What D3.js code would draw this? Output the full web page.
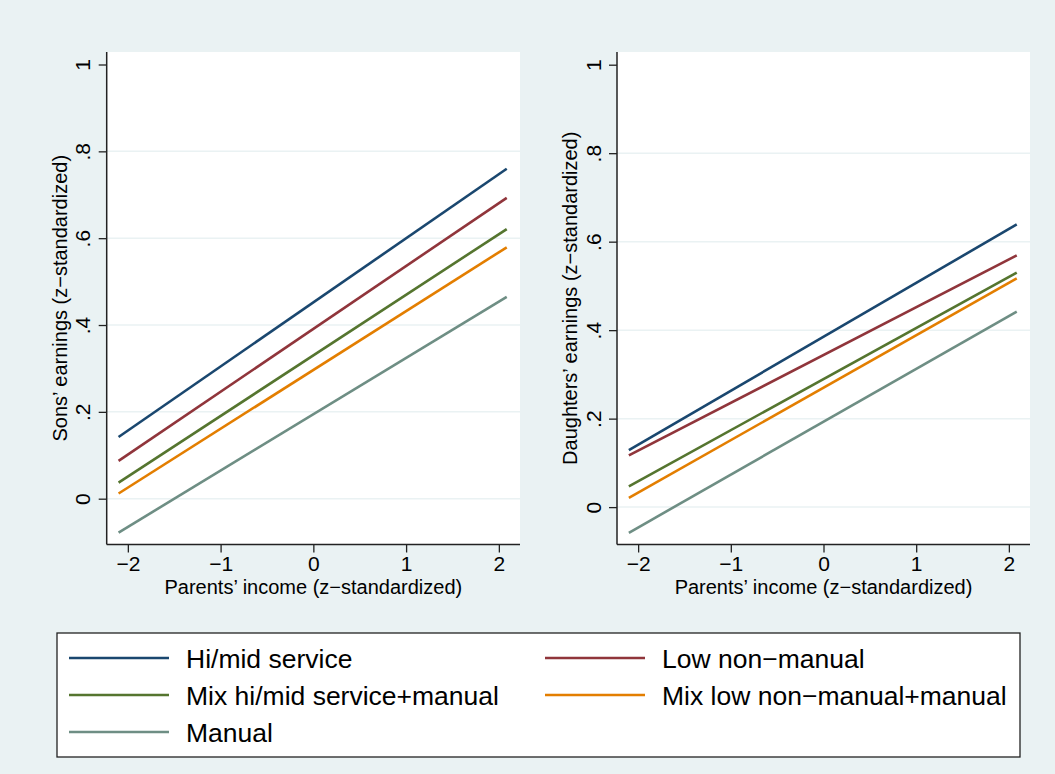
<!DOCTYPE html>
<html>
<head>
<meta charset="utf-8">
<script src="https://cdn.jsdelivr.net/npm/d3@7"></script>
<style>
  body { margin: 0; background: #eaf2f3; }
  svg { display: block; font-family: "Liberation Sans", Arial, sans-serif; }
</style>
</head>
<body>
<svg width="1055" height="774"></svg>
<script>
// classes of parental occupation
const categories = ["Hi/mid service", "Low non\u2212manual", "Mix hi/mid service+manual", "Mix low non\u2212manual+manual", "Manual"];
const colors = ["#1a476f", "#90353b", "#55752f", "#e37e00", "#6e8e84"];

// predictions at the two ends of the parents' income range
const parentIncome = [-2.1, 2.085];
const sonsEarnings = [[0.142, 0.760], [0.087, 0.693], [0.037, 0.621], [0.012, 0.579], [-0.078, 0.465]];
const daughtersEarnings = [[0.129, 0.639], [0.117, 0.569], [0.047, 0.530], [0.021, 0.517], [-0.058, 0.442]];

const xTicks = [-2, -1, 0, 1, 2];
const yTicks = [0, 0.2, 0.4, 0.6, 0.8, 1];

const svg = d3.select("svg");
const fmtX = d => d < 0 ? "\u2212" + Math.abs(d) : String(d);
const fmtY = d => d === 0 ? "0" : d === 1 ? "1" : String(d).replace("0.", ".");

function panel(left, right, yDomain, values, ytitle) {
    const top = 52, bottom = 544.5;
    const x = d3.scaleLinear().domain([-2.228, 2.228]).range([left, right]);
    const y = d3.scaleLinear().domain(yDomain).range([bottom, top]);
    const g = svg.append("g");

    g.append("rect").attr("x", left).attr("y", top)
        .attr("width", right - left).attr("height", bottom - top).attr("fill", "#fff");

    // gridlines (none at the top tick)
    g.selectAll(".grid").data(yTicks.filter(d => d < 1)).join("line")
        .attr("x1", left).attr("x2", right)
        .attr("y1", d => y(d)).attr("y2", d => y(d))
        .attr("stroke", "#eaf2f3").attr("stroke-width", 1.5);

    const line = d3.line().x(d => x(d[0])).y(d => y(d[1]));
    g.selectAll(".series").data(values).join("path")
        .attr("d", v => line(parentIncome.map((p, i) => [p, v[i]])))
        .attr("fill", "none")
        .attr("stroke", (v, i) => colors[i])
        .attr("stroke-width", 2.6);

    const xa = g.append("g").attr("transform", `translate(0,${bottom})`)
        .call(d3.axisBottom(x).tickValues(xTicks).tickFormat(fmtX).tickSize(8).tickSizeOuter(0).tickPadding(4));
    const ya = g.append("g").attr("transform", `translate(${left},0)`)
        .call(d3.axisLeft(y).tickValues(yTicks).tickFormat(fmtY).tickSize(8).tickSizeOuter(0));
    [xa, ya].forEach(a => {
        a.select(".domain").remove();
        a.selectAll("line").attr("stroke", "#222").attr("stroke-width", 1.3);
        a.selectAll("text").attr("fill", "#000").style("font-size", "21px");
    });
    ya.selectAll(".tick text")
        .attr("x", 0).attr("dy", null)
        .attr("text-anchor", "middle")
        .attr("transform", "translate(-24,0) rotate(-90)")
        .attr("dominant-baseline", "central");

    g.append("line").attr("x1", left).attr("x2", left).attr("y1", top).attr("y2", bottom)
        .attr("stroke", "#222").attr("stroke-width", 1.5);
    g.append("line").attr("x1", left).attr("x2", right).attr("y1", bottom).attr("y2", bottom)
        .attr("stroke", "#222").attr("stroke-width", 1.5);

    g.append("text").attr("x", (left + right) / 2).attr("y", 594)
        .attr("text-anchor", "middle").style("font-size", "20px")
        .text("Parents\u2019 income (z\u2212standardized)");
    g.append("text")
        .attr("transform", `translate(${left - 40},${(top + bottom) / 2}) rotate(-90)`)
        .attr("text-anchor", "middle").style("font-size", "20px")
        .text(ytitle);
}

panel(106.7, 520, [-0.1055, 1.0288], sonsEarnings, "Sons\u2019 earnings (z\u2212standardized)");
panel(617, 1030, [-0.0845, 1.0287], daughtersEarnings, "Daughters\u2019 earnings (z\u2212standardized)");

// legend
const lg = svg.append("g");
lg.append("rect").attr("x", 57).attr("y", 633).attr("width", 963).attr("height", 124)
    .attr("fill", "#fff").attr("stroke", "#222").attr("stroke-width", 1.3);
const colX = [69, 545], rowY = [658, 695, 732];
const items = lg.selectAll(".item").data(categories).join("g")
    .attr("transform", (d, i) => `translate(${colX[i % 2]},${rowY[Math.floor(i / 2)]})`);
items.append("line").attr("x1", 0).attr("x2", 100)
    .attr("stroke", (d, i) => colors[i]).attr("stroke-width", 2.6);
items.append("text").attr("x", 117).attr("dy", "0.36em")
    .style("font-size", "26.5px").text(d => d);
</script>
</body>
</html>
